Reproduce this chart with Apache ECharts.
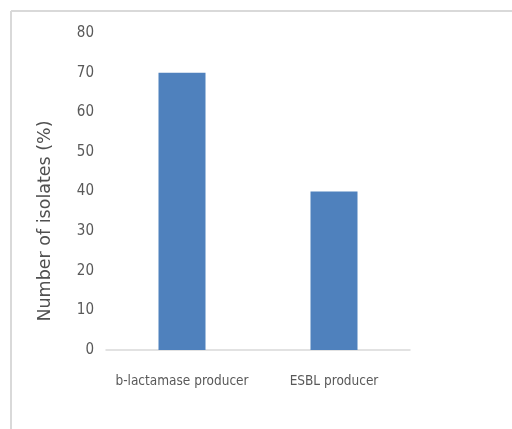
<!DOCTYPE html>
<html>
<head>
<meta charset="utf-8">
<script src="https://cdn.jsdelivr.net/npm/echarts@6/dist/echarts.min.js"></script>
<style>
  html, body { margin: 0; padding: 0; background: #fff; }
  #chart { width: 512px; height: 429px; }
</style>
</head>
<body>
<div id="chart"></div>
<script>
// data
const categories = ["b-lactamase producer", "ESBL producer"];
const isolatePct = [70, 40];
const yTicks = { min: 0, max: 80, interval: 10 };
const yTitle = "Number of isolates (%)";

const chart = echarts.init(document.getElementById("chart"));
const labelFont = "'DejaVu Sans Condensed', 'Liberation Sans Narrow', sans-serif";

chart.setOption({
  animation: false,
  grid: { left: 106, right: 102, top: 33, bottom: 79 },
  graphic: [
    // frame of the original chart area (top and left edges only)
    { type: "line", shape: { x1: 11, y1: 11, x2: 512, y2: 11 }, style: { stroke: "#d9d9d9", lineWidth: 2 } },
    { type: "line", shape: { x1: 11, y1: 11, x2: 11, y2: 429 }, style: { stroke: "#d9d9d9", lineWidth: 2 } },
    {
      type: "text",
      x: 45,
      y: 221,
      rotation: Math.PI / 2,
      style: {
        text: yTitle,
        fill: "#505050",
        font: "17.5px 'DejaVu Sans', sans-serif",
        align: "center",
        verticalAlign: "middle"
      }
    }
  ],
  xAxis: {
    type: "category",
    data: categories,
    axisLine: { lineStyle: { color: "#d9d9d9", width: 1.5 } },
    axisTick: { show: false },
    axisLabel: { interval: 0, color: "#595959", fontFamily: labelFont, fontSize: 13.5, margin: 24 }
  },
  yAxis: {
    type: "value",
    min: yTicks.min,
    max: yTicks.max,
    interval: yTicks.interval,
    splitLine: { show: false },
    axisLine: { show: false },
    axisTick: { show: false },
    axisLabel: { color: "#595959", fontFamily: labelFont, fontSize: 15, margin: 12 }
  },
  series: [
    {
      type: "bar",
      data: isolatePct,
      barWidth: 47,
      itemStyle: { color: "#4f81bd" }
    }
  ]
});
</script>
</body>
</html>
